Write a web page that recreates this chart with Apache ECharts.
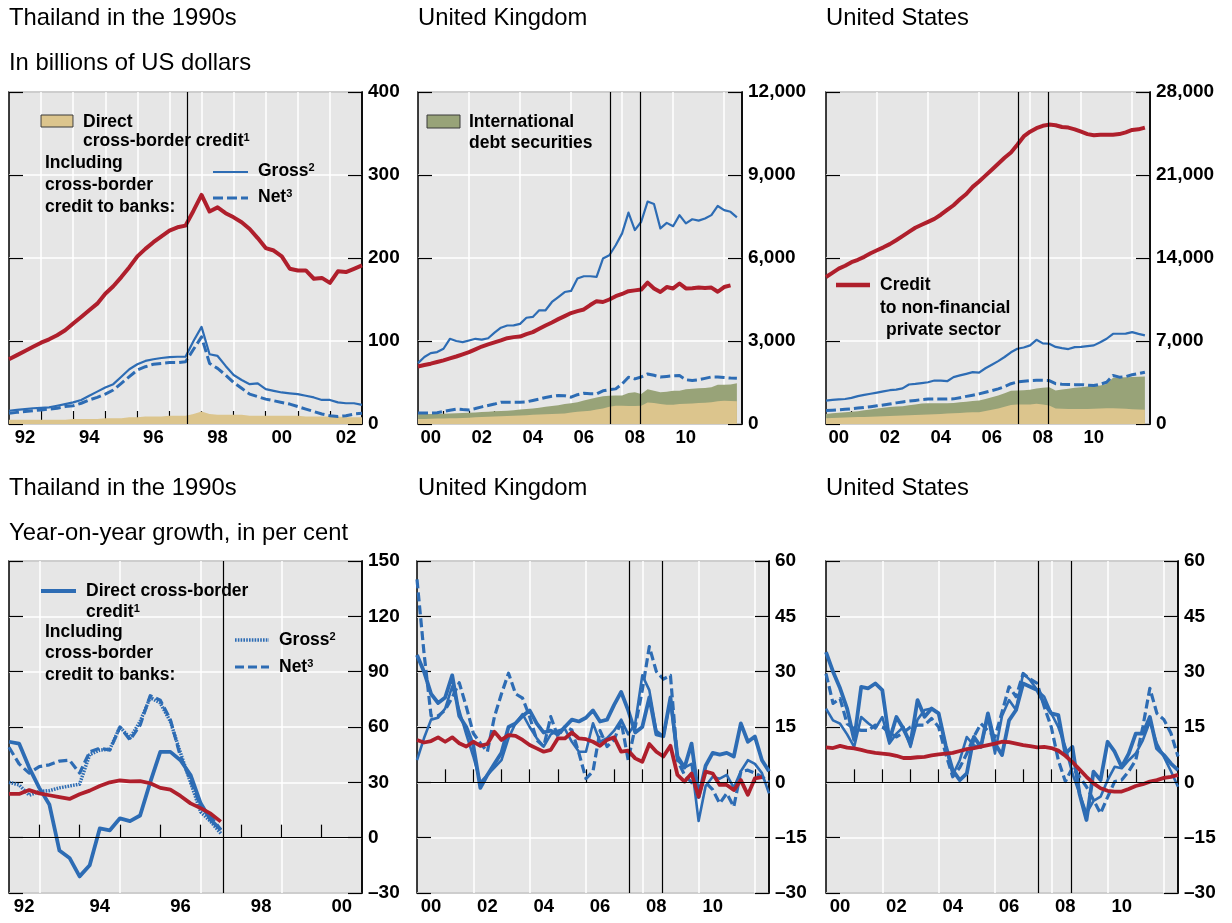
<!DOCTYPE html>
<html><head><meta charset="utf-8">
<script src="https://cdn.jsdelivr.net/npm/echarts/dist/echarts.min.js"></script>
<style>html,body{margin:0;padding:0;background:#fff}#c{width:1232px;height:923px}</style>
</head><body><div id="c"></div>
<script>
// ---------- DATA (quarterly) ----------
// Thailand, levels, USD bn, from 1992Q1
const thaiStart = 1992.0;
const thaiDirect = [5,5,5,5,5,5,5,5,6,6,6,6,7,7,7,8,8,9,9,9,10,10,10,12,15,12,11,11,11,11,10,10,10,10,10,10,10,9,9,9,9,9,8,8,8];
const thaiGross = [16,17,18,19,19.5,20,22,24,26,29,34,39,44,48,57,66,72,76,78,79.5,80.5,81,81,100,117,84,82,70,59,53,48,49,42,40,38,37,36,34,32,29,29,26,25,25,23];
const thaiNet = [13,14,15,16,17,18,19,21,22,25,29,32,36,41,49,57,65,69,72,73,74,74,75,90,105,73,67,59,50,43,36,33,30,28,26,24,21,18,15,12,10,9,10,12,13];
const thaiCredit = [78,83,88,93,98,102,107,113,121,129,137,145,157,166,177,189,202,211,219,226,233,237,239,257,276,256,261,254,249,243,235,224,212,209,202,187,185,185,175,176,170,184,183,187,191];

// United Kingdom, levels, USD bn, from 2000Q1
const ukStart = 2000.0;
const ukDirect = [180,185,190,195,200,205,210,220,230,240,250,260,270,280,290,300,310,320,330,340,350,360,370,380,420,440,460,480,520,560,620,660,660,650,650,660,780,760,720,700,700,720,730,740,760,770,790,820,840,830,820];
const ukIds = [180,175,170,170,170,175,180,180,180,180,180,180,190,190,190,200,210,220,230,250,270,290,310,340,330,350,390,420,440,440,400,370,370,470,500,420,480,440,430,470,500,480,530,530,530,530,540,600,580,600,650];
const ukGross = [2200,2420,2560,2600,2720,3080,3000,2960,3020,3080,3050,3100,3300,3480,3560,3565,3620,3840,3870,4110,4110,4410,4590,4770,4810,5260,5340,5340,5320,5980,6100,6460,6890,7640,7010,7310,8040,7950,7070,7270,7150,7550,7250,7400,7350,7430,7550,7880,7730,7670,7470];
const ukNet = [400,400,400,410,450,500,540,520,510,560,620,670,720,790,790,790,790,800,850,900,960,1000,1030,1020,970,1060,1110,1090,1090,1200,1240,1270,1450,1690,1630,1700,1810,1760,1700,1720,1740,1750,1600,1570,1600,1650,1700,1700,1680,1660,1650];
const ukCredit = [2080,2130,2180,2240,2300,2370,2440,2520,2600,2700,2800,2880,2950,3020,3100,3140,3160,3250,3320,3440,3560,3670,3790,3900,4010,4080,4140,4300,4440,4410,4500,4620,4700,4800,4830,4860,5110,4900,4770,4950,4900,5080,4900,4910,4930,4920,4930,4780,4950,5010];

// United States, levels, USD bn, from 2000Q1
const usStart = 2000.0;
const usDirect = [480,500,520,540,560,580,600,620,640,660,680,700,710,730,750,780,800,820,850,880,900,930,960,990,1000,1100,1200,1300,1450,1600,1650,1650,1650,1700,1650,1550,1300,1280,1270,1270,1270,1270,1280,1300,1320,1320,1300,1280,1250,1230,1210];
const usIds = [370,400,430,450,470,500,550,600,660,720,750,770,790,850,900,940,950,930,900,880,880,900,920,940,980,1000,1050,1100,1150,1200,1180,1200,1230,1300,1400,1550,1530,1620,1710,1780,1830,1900,1920,1950,2060,2580,2630,2670,2720,2760,2790];
const usGross = [1970,2030,2080,2110,2200,2350,2450,2550,2650,2750,2850,2900,3000,3330,3380,3450,3520,3670,3650,3610,3950,4100,4230,4370,4330,4700,5000,5300,5650,6050,6350,6450,6630,7100,6800,6770,6500,6400,6320,6480,6500,6570,6630,6900,7190,7610,7610,7620,7750,7600,7470];
const usNet = [1130,1160,1200,1240,1280,1340,1400,1460,1530,1610,1690,1780,1860,1930,1990,2060,2110,2120,2110,2100,2120,2220,2330,2430,2540,2680,2820,2960,3150,3400,3540,3600,3660,3680,3680,3660,3400,3350,3330,3320,3320,3280,3240,3350,3520,4090,3950,4000,4150,4250,4370];
const usCredit = [12400,12750,13100,13350,13650,13850,14100,14400,14650,14900,15170,15500,15850,16200,16550,16800,17050,17300,17650,18050,18450,18950,19400,20000,20450,20950,21450,21950,22450,22900,23550,24250,24650,24950,25150,25250,25200,25050,25000,24850,24650,24450,24350,24400,24400,24400,24450,24600,24800,24850,25000];

// Thailand, growth y/y %, from 1992Q2
const thaiGrowthStart = 1992.25;
const thaiDirectG = [52,51,38,27,18,-7,-11,-21,-15,5,4,10.5,9,12,30,46.5,46.5,42,34,18.6,9.6,4.2];
const thaiGrossG = [30,28.6,23,25,25.5,27,28,29,45,47.5,48,60,54,63,76,73,63,46,30,14,8.7,2.3];
const thaiNetG = [49,40,35,38.5,39.5,41.5,42,35,46.5,48.5,47.5,60,53,61,77,74.5,64,44,31,17,11.5,4.2];
const thaiCreditG = [23.7,23.7,25.8,24,23,22,21,23.5,25.5,28,30,31,30.5,30.7,29.5,27,26,22.6,18.6,16,13,8.7];

// UK growth, from 2000Q1
const ukDirectG = [34.5,30,24,21.5,23,29,18,15,10,-1.5,2,5,8,15,16,18,19.5,16,13.5,14,13,15,17,16.5,17.5,19.5,16.5,17,21,24.5,19.5,13.5,15,23,13,12.5,23,7,4,10.5,-4,4.5,8,7.5,8,7,16,11,12.4,6,3];
const ukGrossG = [6,12,17,17.5,20,26,19.5,13,7,0,2,4,6,12,16,18.5,15,12,9.7,13,14,14.5,11,8.3,8.3,16,11,12,14,17,13,16,29,25,14,12.5,22,6,4,5,-10.5,-1,1.5,1,2,-1.5,3,6,5,2.5,-3];
const ukNetG = [55,35,18,18,19.6,23,27,20.5,13.3,10.6,8.3,17.8,24,29.6,24,22.8,17.8,11.5,9.7,17.8,12.4,15.1,14.2,7.9,1,3,14,9.7,11.5,16.5,6,15,25,36.8,30,28,29,6,2,0,-1.2,0,-2,-5.7,-3,-6.6,2.9,3.3,2.5,1.5,0];
const ukCreditG = [11.5,10.8,11.2,12.2,11,12.2,10.6,9.7,11,9.9,10.4,13.7,11.5,12.8,12.6,11.5,10.1,9.2,8.3,8.8,11.9,11.9,13.5,11.9,11.7,11,9.9,11.5,12.2,8.3,8.6,6.5,5.6,10.4,8.3,7,9.9,2,0.2,2.4,-3.9,2.9,2.4,-0.7,-0.7,-2.1,0.6,-3.4,1.1,1.4];

// US growth, from 2000Q1
const usDirectG = [35.3,30,25.5,20,11.5,25.9,25.5,26.8,25,11.4,17.7,14.5,10.5,22.3,17.8,20,18.7,10,3.3,0.6,2.4,12.3,9.6,18.7,10.5,7.4,16.8,19.6,26.8,25.9,25,21.4,18.7,18.2,7.8,9.6,-3,-10.2,2.9,0.6,11,8.3,4.2,7.8,13.2,13.2,17.7,9.2,7.4,5.1,3.3];
const usGrossG = [20,16.8,15.9,13,9.6,17.7,16,14.6,17.7,10.5,13.2,15,9.6,17,19.6,20,18.7,10,2,6,12.3,10,9.6,17.7,7.8,18,22.3,19.6,29.5,27.7,25,23.2,18.7,15,9.6,2.4,-3,-8.4,-5,-3.9,0.6,4.2,3.8,6,7.8,11.4,16.4,10.5,6.9,3,-1.2];
const usNetG = [29.5,21.4,22.7,15.9,14.5,14.1,14.1,15.5,15,13.5,12.3,13.5,15,15.5,15.5,17.3,15,7.8,1.5,4,7.8,12.3,15.9,14,12.3,19,25.9,23.2,29.5,28,26.8,20.5,15,6,0.2,4,1.5,-1.2,-4.8,-8.4,-4,0.2,0.6,3,6,15,25.5,18.7,17,13.3,7];
const usCreditG = [9.5,9.3,9.9,9.4,9.2,8.8,8.3,8,7.8,7.6,7.2,6.6,6.6,6.8,6.9,7.3,7.6,7.8,8,8.5,9,9.3,9.7,10.1,10.5,11,10.9,10.5,10.1,9.8,9.5,9.6,9.3,8.6,7.2,5.5,3.5,1.5,-0.3,-1.6,-2.3,-2.5,-2.5,-1.8,-1,-0.5,0.2,0.6,1.2,1.5,2];

// Event lines
const thaiCrisis = [1997.55];
const gfcLines = [2007.55, 2008.72];

// Axis ticks / labels (years)
const thaiTopTicks = [1993,1994,1995,1996,1997,1998,1999,2000,2001,2002];
const thaiTopGrid = [1993,1994,1995,1996,1997,1998,1999,2000,2001,2002];
const thaiTopLabels = [1992,1994,1996,1998,2000,2002];
const thaiBotTicks = [1993,1994,1995,1996,1997,1998,1999,2000];
const thaiBotGrid = [1993,1995,1997,1999];
const thaiBotLabels = [1992,1994,1996,1998,2000];
const recentTicks = [2001,2002,2003,2004,2005,2006,2007,2008,2009,2010,2011,2012];
const recentGrid = [2002,2004,2006,2008,2010,2012];
const recentLabels = [2000,2002,2004,2006,2008,2010];

// ---------- STYLE ----------
const FONT = '"Liberation Sans", Arial, Helvetica, sans-serif';
const BLUE = '#2D6CB4', RED = '#AF1F2C', TAN = '#DCC58D', GREEN = '#98A378', BG = '#E6E6E6';
const TITLE_FS = 23.8, LEG_FS = 17.5, YLAB_FS = 19, XLAB_FS = 18.5;

function q(start, arr){ return arr.map((v,i)=>[start + i*0.25, v]); }
// stacked top of two area components (direct credit + international debt securities)
function stackTop(a, b){ return a.map((v,i)=>v + b[i]); }
function fmtNum(v){ const a=Math.abs(v); const s=String(a).replace(/\B(?=(\d{3})+(?!\d))/g, ','); return (v<0?'\u2013':'')+s; }
function yy(v){ const y=Math.floor(v+1e-6)%100; return (y<10?'0':'')+y; }

const panels = [
  {grid:{left:9,top:92,width:353,height:332}, xMin:1992, xMax:2003, yMin:0, yMax:400, yInt:100,
   ticks:thaiTopTicks, gl:thaiTopGrid, labels:thaiTopLabels, events:thaiCrisis, zero:false},
  {grid:{left:418,top:92,width:324,height:332}, xMin:2000, xMax:2012.7, yMin:0, yMax:12000, yInt:3000,
   ticks:recentTicks, gl:recentGrid, labels:recentLabels, events:gfcLines, zero:false},
  {grid:{left:826,top:92,width:324,height:332}, xMin:2000, xMax:2012.7, yMin:0, yMax:28000, yInt:7000,
   ticks:recentTicks, gl:recentGrid, labels:recentLabels, events:gfcLines, zero:false},
  {grid:{left:9,top:561,width:353,height:332}, xMin:1992.25, xMax:2001, yMin:-30, yMax:150, yInt:30,
   ticks:thaiBotTicks, gl:thaiBotGrid, labels:thaiBotLabels, events:thaiCrisis, zero:true},
  {grid:{left:417,top:561,width:352,height:332}, xMin:2000, xMax:2012.5, yMin:-30, yMax:60, yInt:15,
   ticks:recentTicks, gl:recentGrid, labels:recentLabels, events:gfcLines, zero:true},
  {grid:{left:826,top:561,width:352,height:332}, xMin:2000, xMax:2012.5, yMin:-30, yMax:60, yInt:15,
   ticks:recentTicks, gl:recentGrid, labels:recentLabels, events:gfcLines, zero:true}
];

const grids=[], xAxis=[], yAxis=[], series=[];
panels.forEach((p,g)=>{
  grids.push(Object.assign({show:true, backgroundColor:BG, borderColor:'#000', borderWidth:1.5, containLabel:false}, p.grid));
  const labelPos = p.labels.map(y=> (Math.max(y,p.xMin)+Math.min(y+1,p.xMax))/2);
  xAxis.push({type:'value', gridIndex:g, min:p.xMin, max:p.xMax, axisLine:{show:false},
    axisTick:{show:true, inside:true, length:13, customValues:p.ticks, lineStyle:{color:'#000', width:1.2}},
    axisLabel:{show:true, customValues:labelPos, formatter:yy, margin:4, color:'#000', fontSize:XLAB_FS, fontWeight:'bold', fontFamily:FONT},
    splitLine:{show:false}});
  xAxis.push({type:'value', gridIndex:g, min:p.xMin, max:p.xMax, axisLine:{show:false},
    axisTick:{show:false, customValues:p.gl}, axisLabel:{show:false},
    splitLine:{show:true, lineStyle:{color:'#fff', width:1.5}}});
  yAxis.push({type:'value', gridIndex:g, position:'right', min:p.yMin, max:p.yMax, interval:p.yInt,
    axisLine:{show:true, lineStyle:{color:'#000', width:1.5}},
    axisTick:{show:true, inside:true, length:14, lineStyle:{color:'#000', width:1.2}},
    axisLabel:{show:true, margin:6, color:'#000', fontSize:YLAB_FS, fontWeight:'bold', fontFamily:FONT, formatter:fmtNum},
    splitLine:{show:true, lineStyle:{color:'#fff', width:1.5}}});
  yAxis.push({type:'value', gridIndex:g, position:'left', min:p.yMin, max:p.yMax, interval:p.yInt,
    axisLine:{show:false}, axisTick:{show:true, inside:true, length:14, lineStyle:{color:'#000', width:1.2}},
    axisLabel:{show:false}, splitLine:{show:false}});
});

function ml(p){
  const d = p.events.map(x=>({xAxis:x}));
  if(p.zero) d.push({yAxis:0});
  return {silent:true, symbol:['none','none'], label:{show:false}, animation:false,
          lineStyle:{color:'#000', width:1.2, type:'solid'}, emphasis:{disabled:true}, data:d};
}
function area(g, start, arr, color, extra){
  return Object.assign({type:'line', xAxisIndex:2*g, yAxisIndex:2*g, data:q(start,arr),
    symbol:'none', lineStyle:{width:0, opacity:0}, areaStyle:{color:color, opacity:1, origin:'start'}, z:1, silent:true}, extra||{});
}
function line(g, start, arr, color, width, type, extra){
  return Object.assign({type:'line', xAxisIndex:2*g, yAxisIndex:2*g, data:q(start,arr), symbol:'none',
    lineStyle:{color:color, width:width, type:type||'solid', cap:'butt', join:'round'}, z:3, silent:true}, extra||{});
}
const DASH_T = [10,4], DASH_B = [9,4], DOT = [1.6,1.2];

// Top: Thailand
series.push(area(0, thaiStart, thaiDirect, TAN, {markLine: ml(panels[0])}));
series.push(line(0, thaiStart, thaiNet, BLUE, 3, DASH_T));
series.push(line(0, thaiStart, thaiGross, BLUE, 2.2));
series.push(line(0, thaiStart, thaiCredit, RED, 4));
// Top: UK (green = direct + IDS, tan drawn over it)
series.push(area(1, ukStart, stackTop(ukDirect, ukIds), GREEN, {markLine: ml(panels[1])}));
series.push(area(1, ukStart, ukDirect, TAN));
series.push(line(1, ukStart, ukNet, BLUE, 3, DASH_T));
series.push(line(1, ukStart, ukGross, BLUE, 2.2));
series.push(line(1, ukStart, ukCredit, RED, 4));
// Top: US
series.push(area(2, usStart, stackTop(usDirect, usIds), GREEN, {markLine: ml(panels[2])}));
series.push(area(2, usStart, usDirect, TAN));
series.push(line(2, usStart, usNet, BLUE, 3, DASH_T));
series.push(line(2, usStart, usGross, BLUE, 2.2));
series.push(line(2, usStart, usCredit, RED, 4));
// Bottom: Thailand
series.push(line(3, thaiGrowthStart, thaiGrossG, BLUE, 3.5, DOT, {markLine: ml(panels[3])}));
series.push(line(3, thaiGrowthStart, thaiNetG, BLUE, 3.2, DASH_B));
series.push(line(3, thaiGrowthStart, thaiDirectG, BLUE, 3.8));
series.push(line(3, thaiGrowthStart, thaiCreditG, RED, 3.8));
// Bottom: UK
series.push(line(4, ukStart, ukNetG, BLUE, 3.2, DASH_B, {markLine: ml(panels[4])}));
series.push(line(4, ukStart, ukGrossG, BLUE, 2.6));
series.push(line(4, ukStart, ukDirectG, BLUE, 3.8));
series.push(line(4, ukStart, ukCreditG, RED, 3.8));
// Bottom: US
series.push(line(5, usStart, usNetG, BLUE, 3.2, DASH_B, {markLine: ml(panels[5])}));
series.push(line(5, usStart, usGrossG, BLUE, 2.6));
series.push(line(5, usStart, usDirectG, BLUE, 3.8));
series.push(line(5, usStart, usCreditG, RED, 3.8));

// ---------- TEXT / LEGENDS ----------
function T(x, y, text, size, bold){
  return {type:'text', z:50, style:{x:x, y:y, text:text, fill:'#000', fontSize:size, fontWeight:bold?'bold':'normal',
    fontFamily:FONT, verticalAlign:'middle', align:'left',
    rich:{s:{fontSize:11, fontWeight:'bold', fontFamily:FONT, fill:'#000', verticalAlign:'top', lineHeight:11}}}};
}
function L(x1, x2, y, color, width, dash){
  return {type:'line', z:50, shape:{x1:x1, y1:y, x2:x2, y2:y}, style:{stroke:color, lineWidth:width, lineDash:dash||null}};
}
function R(x, y, w, h, color){
  return {type:'rect', z:50, shape:{x:x, y:y, width:w, height:h}, style:{fill:color, stroke:'#3a3a3a', lineWidth:1}};
}
const graphic = [
  T(9, 18, 'Thailand in the 1990s', TITLE_FS, false),
  T(9, 63, 'In billions of US dollars', TITLE_FS, false),
  T(418, 18, 'United Kingdom', TITLE_FS, false),
  T(826, 18, 'United States', TITLE_FS, false),
  T(9, 488, 'Thailand in the 1990s', TITLE_FS, false),
  T(9, 533, 'Year-on-year growth, in per cent', TITLE_FS, false),
  T(418, 488, 'United Kingdom', TITLE_FS, false),
  T(826, 488, 'United States', TITLE_FS, false),
  // top-left legend
  R(41, 115, 32, 12, TAN),
  T(83, 122, 'Direct', LEG_FS, true),
  T(83, 141, 'cross-border credit{s|1}', LEG_FS, true),
  T(45, 163, 'Including', LEG_FS, true),
  T(45, 185, 'cross-border', LEG_FS, true),
  T(45, 207, 'credit to banks:', LEG_FS, true),
  L(213, 248, 172, BLUE, 2.2),
  T(258, 171, 'Gross{s|2}', LEG_FS, true),
  L(213, 248, 198, BLUE, 3, [10,4]),
  T(258, 197, 'Net{s|3}', LEG_FS, true),
  // top-middle legend
  R(427, 115, 33, 13, GREEN),
  T(469, 122, 'International', LEG_FS, true),
  T(469, 143, 'debt securities', LEG_FS, true),
  // top-right legend
  L(836, 870, 285, RED, 4.5),
  T(880, 285, 'Credit', LEG_FS, true),
  T(880, 308, 'to non-financial', LEG_FS, true),
  T(886, 330, 'private sector', LEG_FS, true),
  // bottom-left legend
  L(41, 76, 591, BLUE, 4),
  T(86, 591, 'Direct cross-border', LEG_FS, true),
  T(86, 612, 'credit{s|1}', LEG_FS, true),
  T(45, 632, 'Including', LEG_FS, true),
  T(45, 653, 'cross-border', LEG_FS, true),
  T(45, 675, 'credit to banks:', LEG_FS, true),
  L(235, 269, 640, BLUE, 3.5, [1.6,1.2]),
  T(279, 640, 'Gross{s|2}', LEG_FS, true),
  L(235, 269, 667, BLUE, 3.2, [9,4]),
  T(279, 667, 'Net{s|3}', LEG_FS, true)
];

const chart = echarts.init(document.getElementById('c'), null, {renderer:'canvas'});
chart.setOption({animation:false, backgroundColor:'#fff', grid:grids, xAxis:xAxis, yAxis:yAxis, series:series, graphic:graphic});
</script></body></html>
